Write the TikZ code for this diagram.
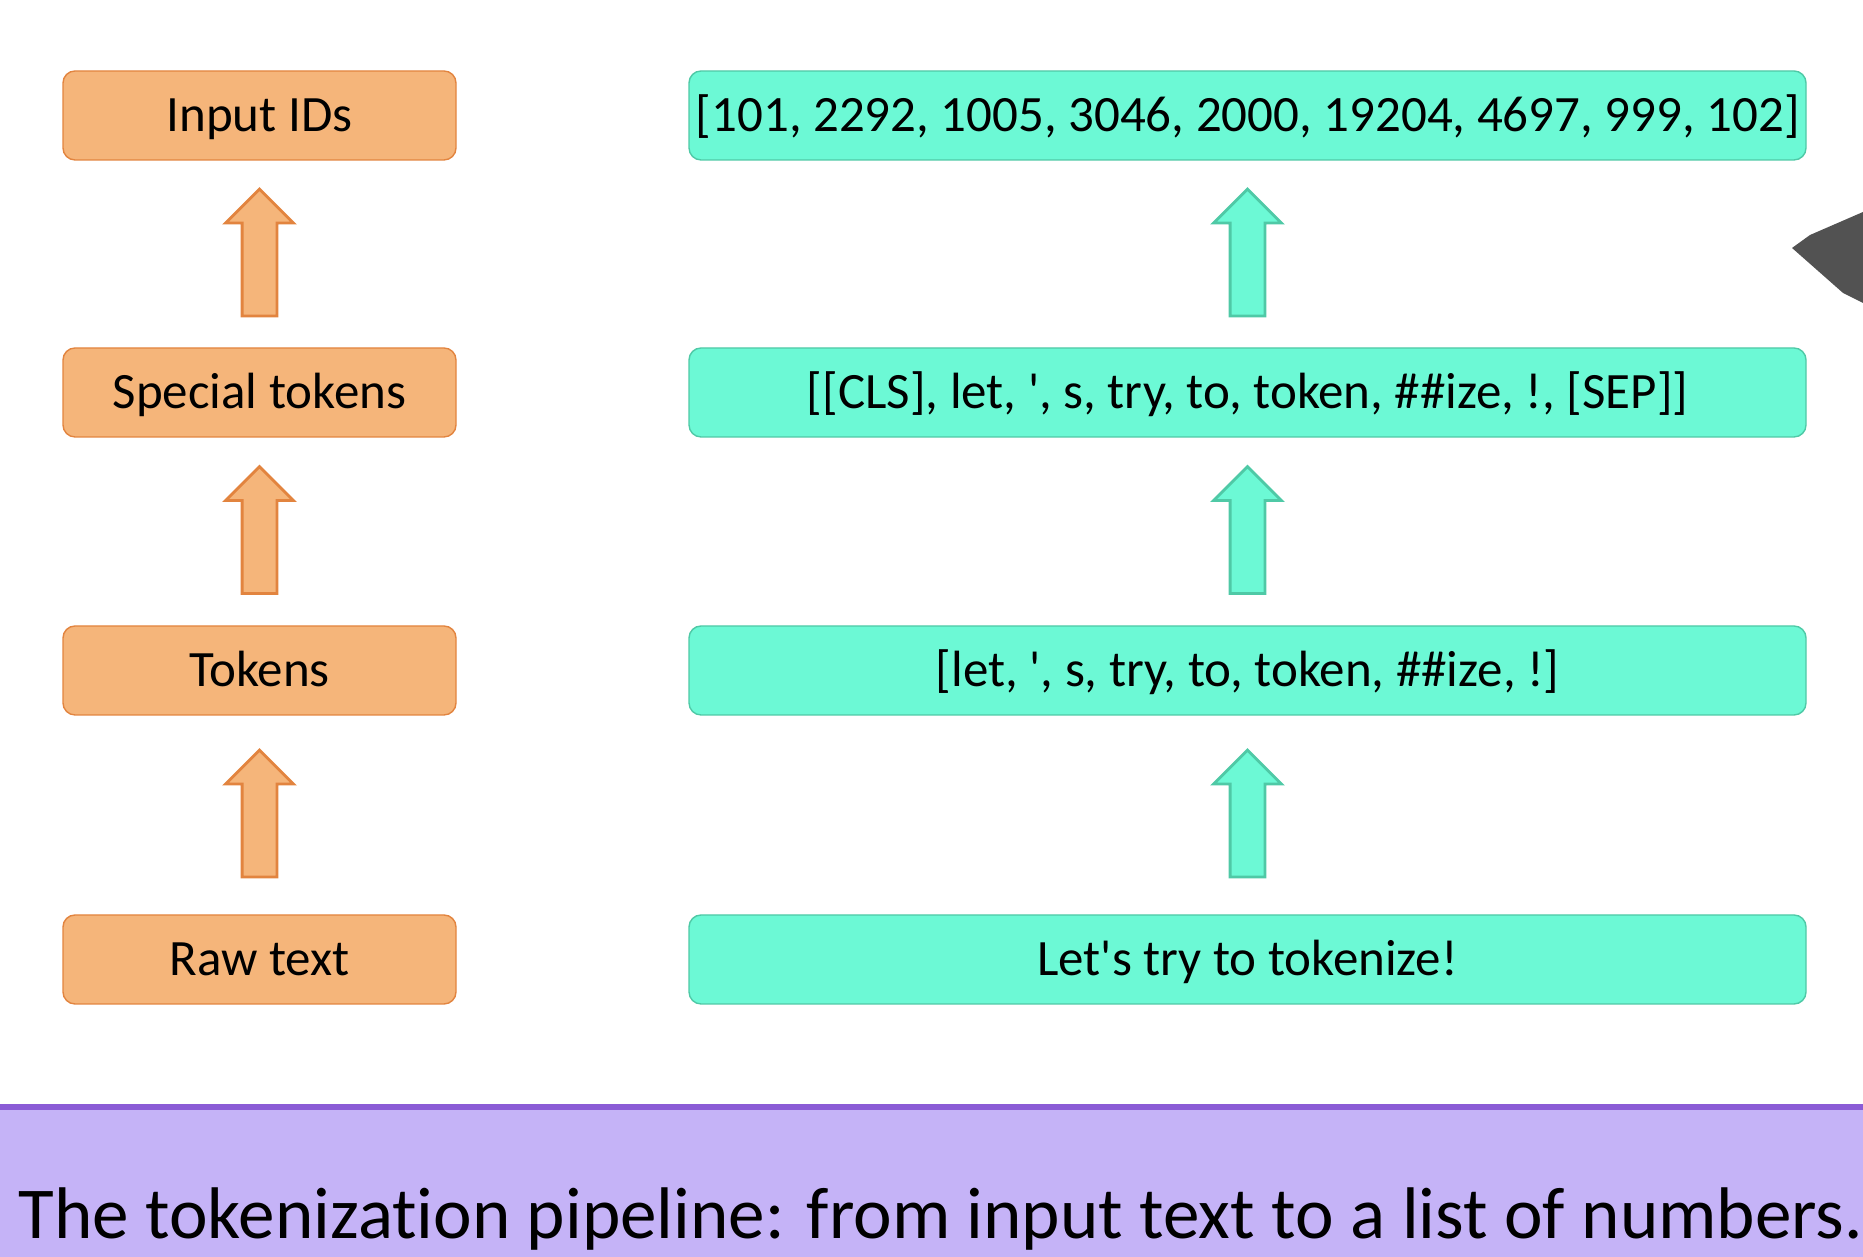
\documentclass[tikz,border=0pt]{standalone}
\usepackage{fontspec}
\setmainfont{Carlito}[Ligatures=NoCommon]
\usetikzlibrary{shapes.arrows,calc}
\definecolor{orangefill}{HTML}{F5B57A}
\definecolor{orangeline}{HTML}{E2843F}
\definecolor{tealfill}{HTML}{6CF9D5}
\definecolor{tealline}{HTML}{4FC9A6}
\definecolor{barfill}{HTML}{C5B3F7}
\definecolor{barline}{HTML}{8B5CD6}

\begin{document}
\begin{tikzpicture}
   \useasboundingbox (0,0) rectangle (18.63,12.57);
   \tikzstyle{stage}=[rounded corners=1.2mm, draw=orangeline, fill=orangefill, minimum width=3.93cm, minimum height=0.89cm, inner sep=0, text height=0.33cm, text depth=0cm, font=\fontsize{14.5}{17}\selectfont]
   \tikzstyle{value}=[stage, draw=tealline, fill=tealfill, minimum width=11.17cm]
   \tikzstyle{uparrow}=[single arrow, rotate=90, anchor=tail, minimum height=1.27cm, inner xsep=0, inner ysep=0.16cm, single arrow head extend=0.165cm, line width=0.8pt]
   \foreach \i/\y/\name/\tokens in {0/2.975/{Raw text}/{Let\textquotesingle s try to tokenize!},
       1/5.865/{Tokens}/{[let, \textquotesingle, s, try, to, token, \#\#ize, !]},
       2/8.645/{Special tokens}/{[[CLS], let, \textquotesingle, s, try, to, token, \#\#ize, !, [SEP]]},
       3/11.415/{Input IDs}/{[101, 2292, 1005, 3046, 2000, 19204, 4697, 999, 102]}} {
       \node[stage] (s\i) at (2.595,\y) {\name};
       \node[value] (v\i) at (12.475,\y) {\tokens};
   }
   \foreach \i/\j in {0/1,1/2,2/3} {
       \node[uparrow, draw=orangeline, fill=orangefill] (sa\i) at ($(s\i.north)!0.5!(s\j.south)+(0,-0.635)$) {};
       \node[uparrow, draw=tealline, fill=tealfill] (va\i) at ($(v\i.north)!0.5!(v\j.south)+(0,-0.635)$) {};
   }
   % corner of the presenter at the right edge
   \fill[black!68] (17.92,10.09) -- (18.10,10.22) -- (18.63,10.45) -- (18.63,9.54) -- (18.43,9.64) -- cycle;
   % caption bar
   \fill[barfill] (0,0) rectangle (18.63,1.50);
   \draw[barline, line width=0.6mm] (0,1.50) -- (18.63,1.50);
   \node[anchor=base west, inner sep=0, font=\fontsize{20.8}{25}\selectfont] (caption) at (0.18,0.18) {The tokenization pipeline: from input text to a list of numbers.};
\end{tikzpicture}
\end{document}
